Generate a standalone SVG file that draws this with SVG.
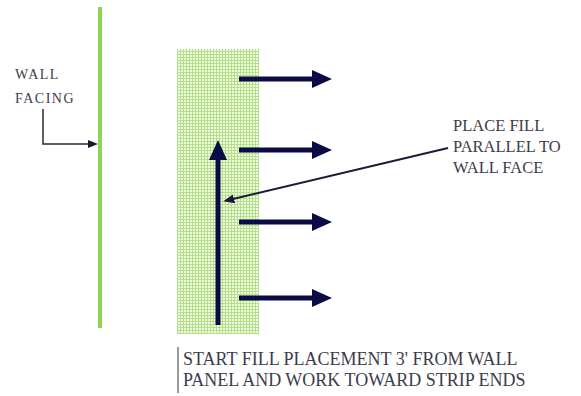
<svg xmlns="http://www.w3.org/2000/svg" width="581" height="396" viewBox="0 0 581 396">
<style>
text{font-family:"Liberation Serif","DejaVu Serif",serif;fill:#3c3c4c}
.big{stroke:#0b0b45;stroke-width:5;fill:none}
.thin{stroke:#1a1a3a;stroke-width:2;fill:none}
</style>
<defs>
<pattern id="grid" width="3" height="3" patternUnits="userSpaceOnUse">
<rect width="3" height="3" fill="#eef9df"/>
<path d="M0 0.5H3M0.5 0V3" stroke="#b5e08a" stroke-width="1"/>
</pattern>
<marker id="bh" markerWidth="20" markerHeight="18" viewBox="0 0 20 18" refX="1" refY="9" orient="auto" markerUnits="userSpaceOnUse">
<path d="M0 0L20 9L0 18Z" fill="#0b0b45"/>
</marker>
<marker id="sh" markerWidth="11" markerHeight="9" viewBox="0 0 11 9" refX="1" refY="4.5" orient="auto" markerUnits="userSpaceOnUse">
<path d="M0 0L11 4.5L0 9Z" fill="#1a1a3a"/>
</marker>
</defs>
<g id="wall">
<line x1="100" y1="7" x2="100" y2="328" stroke="#8fd452" stroke-width="4"/>
</g>
<g id="fill">
<rect x="177" y="49" width="82" height="285" fill="url(#grid)"/>
</g>
<g id="wall-facing-label">
<text x="15" y="79" font-size="14" letter-spacing="1.5">WALL</text>
<text x="15" y="103" font-size="14" letter-spacing="1.5">FACING</text>
</g>
<g id="place-fill-label">
<text x="453" y="131" font-size="16.5">PLACE FILL</text>
<text x="453" y="152" font-size="16.5">PARALLEL TO</text>
<text x="453" y="173" font-size="16.5">WALL FACE</text>
</g>
<g id="start-fill-label">
<line x1="178" y1="347" x2="178" y2="393" stroke="#777" stroke-width="1.5"/>
<text x="183" y="365" font-size="18">START FILL PLACEMENT 3' FROM WALL</text>
<text x="183" y="386" font-size="18">PANEL AND WORK TOWARD STRIP ENDS</text>
</g>
<g id="connectors">
<path class="big" d="M218 325V159" marker-end="url(#bh)"/>
<path class="big" d="M239 79H313" marker-end="url(#bh)"/>
<path class="big" d="M239 150H313" marker-end="url(#bh)"/>
<path class="big" d="M239 222H313" marker-end="url(#bh)"/>
<path class="big" d="M239 298H313" marker-end="url(#bh)"/>
<path class="thin" d="M448 148L233 199" marker-end="url(#sh)"/>
<path stroke="#2a2a3a" stroke-width="1.5" fill="none" d="M43 109V144H89"/>
<path d="M88 140L98 144L88 148Z" fill="#1a1a2a"/>
</g>
</svg>
